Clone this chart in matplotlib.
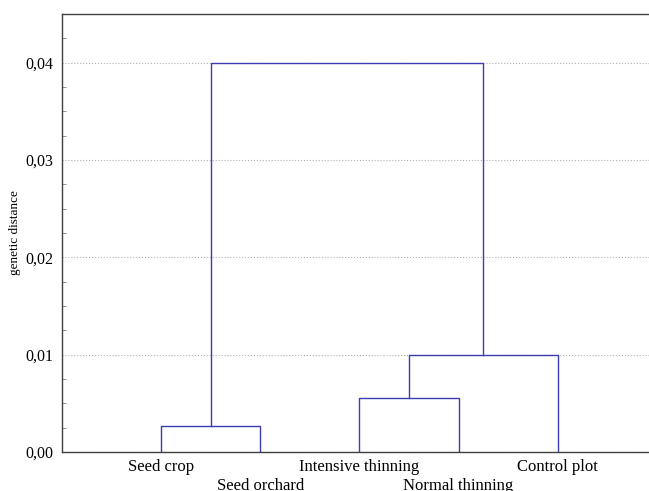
import matplotlib.pyplot as plt
from matplotlib.ticker import MultipleLocator, FuncFormatter

# leaves in dendrogram order
leaves = ["Seed crop", "Seed orchard", "Intensive thinning", "Normal thinning", "Control plot"]
# linkage heights: crop+orchard, intensive+normal, +control, root
merge_heights = [0.00265, 0.00555, 0.0100, 0.0400]

plt.rcParams['font.family'] = ['Liberation Serif', 'DejaVu Serif']

fig = plt.figure(figsize=(6.49, 4.91), dpi=100)
ax = fig.add_axes([0.0955, 0.0794, 0.9045, 0.8921])

col = '#3c3cb4'
pos = [1, 2, 3, 4, 5]

# cluster A: Seed crop + Seed orchard
hA = merge_heights[0]
ax.plot([pos[0], pos[0], pos[1], pos[1]], [0, hA, hA, 0], color=col, lw=1)
xA = (pos[0] + pos[1]) / 2
# cluster B: Intensive + Normal thinning
hB = merge_heights[1]
ax.plot([pos[2], pos[2], pos[3], pos[3]], [0, hB, hB, 0], color=col, lw=1)
xB = (pos[2] + pos[3]) / 2
# cluster C: B + Control plot
hC = merge_heights[2]
ax.plot([xB, xB, pos[4], pos[4]], [hB, hC, hC, 0], color=col, lw=1)
xC = (xB + pos[4]) / 2
# root
hR = merge_heights[3]
ax.plot([xA, xA, xC, xC], [hA, hR, hR, hC], color=col, lw=1)

ax.set_xlim(0.0, 5.92)
ax.set_ylim(0, 0.045)
ax.yaxis.set_major_locator(MultipleLocator(0.01))
ax.yaxis.set_minor_locator(MultipleLocator(0.0025))
ax.yaxis.set_major_formatter(FuncFormatter(lambda v, p: f"{v:.2f}".replace('.', ',')))
ax.grid(axis='y', which='major', color='#b0b0b0', linestyle=':', lw=0.8)
ax.set_axisbelow(True)
ax.tick_params(axis='y', which='major', length=0, labelsize=11.5, pad=6)
ax.tick_params(axis='y', which='minor', length=3, direction='in', color='#808080')

ax.set_xticks(pos)
ax.set_xticklabels([])
ax.tick_params(axis='x', length=0)
for i, name in enumerate(leaves):
    dy = -10.5 if i % 2 == 0 else -24.5
    ax.annotate(name, xy=(pos[i], 0), xytext=(0, dy), textcoords='offset points',
                ha='center', va='center', fontsize=12, annotation_clip=False)

ax.set_ylabel("genetic distance", fontsize=9.5)
ax.yaxis.set_label_coords(-0.070, 0.5)
ax.spines['right'].set_visible(False)
for s in ['left', 'bottom', 'top']:
    ax.spines[s].set_color('#404040')
    ax.spines[s].set_linewidth(1)

fig.savefig("out.png", dpi=100)
